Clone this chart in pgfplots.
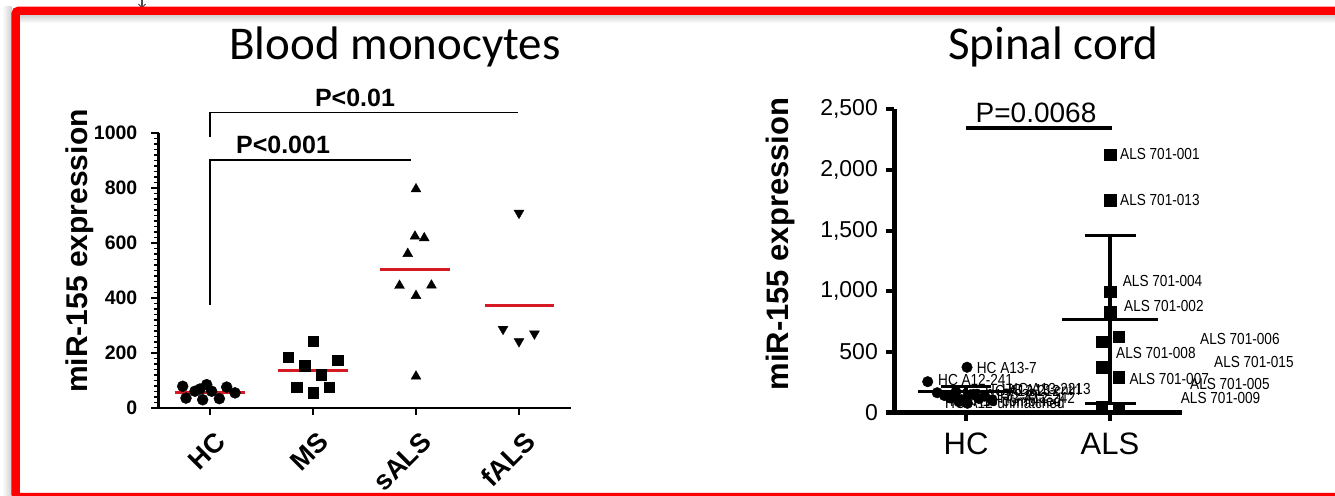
\documentclass[border=0pt]{standalone}
\usepackage{fontspec}
\setmainfont{Liberation Sans}
\newfontfamily\titlefont{Carlito}
\newfontfamily\narrowfont[FakeStretch=0.85]{Liberation Sans}
\usepackage{pgfplots}
\pgfplotsset{compat=1.18}
\definecolor{meanred}{RGB}{215,25,35}
\definecolor{framered}{RGB}{255,0,0}
\tikzset{lab/.style={anchor=west, inner sep=0pt, font=\narrowfont\fontsize{16bp}{18bp}\selectfont}}
\begin{document}
\begin{tikzpicture}
\useasboundingbox (0bp,0bp) rectangle (1335bp,496bp);
\fill[white] (0bp,0bp) rectangle (1335bp,496bp);
% slide shadow and frame
\shade[top color=black!18, bottom color=white] (19.5bp,481bp) rectangle (1335bp,473bp);
\shade[left color=white, right color=black!18] (2bp,0bp) rectangle (11.5bp,489bp);
\draw[black!70, line width=1.2bp] (142bp,496bp) -- (142bp,488bp);
\draw[black!70, line width=1bp] (138.5bp,492bp) -- (142bp,488bp) -- (145.5bp,492bp);
\draw[framered, line width=8.3bp, rounded corners=3bp] (1360bp,485.2bp) -- (15.6bp,485.2bp) -- (15.6bp,-1bp) -- (1360bp,-1bp);

% titles
\node[font=\titlefont\fontsize{47bp}{50bp}\selectfont, anchor=base] at (395bp,436bp) {Blood monocytes};
\node[font=\titlefont\fontsize{47bp}{50bp}\selectfont, anchor=base] at (1053.5bp,436bp) {Spinal cord};

% ---------------- left panel ----------------
\begin{axis}[
  at={(158.5bp,88bp)}, anchor=south west,
  scale only axis, width=412bp, height=275bp,
  xmin=0.5, xmax=4.5, ymin=0, ymax=1000,
  axis lines=left, axis line style={-, line width=2.8bp},
  clip=false,
  tick align=outside,
  major tick length=7bp, minor tick length=4.5bp,
  tick style={black, line width=2bp},
  minor tick style={line width=1.3bp},
  xtick={1,2,3,4}, xticklabels={HC,MS,sALS,fALS},
  ytick={0,200,400,600,800,1000}, minor y tick num=9,
  /pgf/number format/assume math mode=true,
  /pgf/number format/1000 sep={},
  yticklabel style={font=\fontsize{19.5bp}{21bp}\selectfont\bfseries, anchor=east, inner sep=0pt, xshift=-14bp},
  xticklabel style={font=\fontsize{27bp}{30bp}\selectfont\bfseries, xshift=4bp, yshift=-15bp, rotate=45, anchor=north east, inner sep=0pt},
]
% significance brackets
\draw[line width=1.3bp] (axis cs:1,985) -- (axis cs:1,1075) -- (axis cs:3.99,1075);
\draw[line width=1.3bp] (axis cs:1,375) -- (axis cs:1,902) -- (axis cs:2.95,902);
% means
\addplot[meanred, line width=2.4bp] coordinates {(0.66,57) (1.34,57)};
\addplot[meanred, line width=2.4bp] coordinates {(1.66,136) (2.34,136)};
\addplot[meanred, line width=2.4bp] coordinates {(2.65,503) (3.33,503)};
\addplot[meanred, line width=2.4bp] coordinates {(3.67,373) (4.34,373)};
% HC
\addplot[only marks, mark=*, mark size=5.5bp, black] coordinates {
 (0.735,79) (0.767,36) (0.854,61) (0.903,69) (0.929,30) (0.968,85)
 (1.016,61) (1.091,34) (1.162,76) (1.243,55)};
% MS
\addplot[only marks, mark=square*, mark size=5.2bp, black] coordinates {
 (1.76,185) (2.0,242) (1.92,154) (2.24,173) (2.08,121) (1.84,76) (2.16,76) (2.0,55)};
% sALS
\addplot[only marks, mark=triangle*, mark size=5.7bp, black] coordinates {
 (3.0,796) (2.99,624) (3.08,618) (2.92,561) (2.84,445) (3.15,446) (3.0,408) (3.0,115)};
% fALS
\addplot[only marks, mark=triangle*, mark size=5.7bp, black, mark options={rotate=180}] coordinates {
 (4.0,709) (3.845,287) (4.0,242) (4.15,270)};
\end{axis}
\node[font=\bfseries\fontsize{25bp}{28bp}\selectfont] at (355bp,398bp) {P<0.01};
\node[font=\bfseries\fontsize{25bp}{28bp}\selectfont] at (283bp,351bp) {P<0.001};
\node[rotate=90, font=\bfseries\fontsize{30bp}{32bp}\selectfont] at (80bp,245bp) {miR-155 expression};

% ---------------- right panel ----------------
\begin{axis}[
  at={(894bp,83.5bp)}, anchor=south west,
  scale only axis, width=288bp, height=303.3bp,
  xmin=0.5, xmax=2.5, ymin=0, ymax=2500,
  axis lines=left, axis line style={-, line width=5bp},
  clip=false,
  tick align=outside,
  major tick length=8bp,
  tick style={black, line width=4bp},
  xtick={1,2}, xticklabels={HC,ALS},
  ytick={0,500,1000,1500,2000,2500},
  /pgf/number format/assume math mode=true,
  /pgf/number format/1000 sep={,},
  yticklabel style={font=\fontsize{23bp}{26bp}\selectfont, anchor=east, inner sep=0pt, xshift=-8bp},
  xticklabel style={font=\fontsize{31bp}{34bp}\selectfont, anchor=north, inner sep=0pt, yshift=-12bp},
]
% HC error bar and mean
\addplot[black, line width=3.5bp] coordinates {(1,129) (1,215)};
\addplot[black, line width=3.5bp] coordinates {(0.826,215) (1.174,215)};
\addplot[black, line width=3.5bp] coordinates {(0.826,129) (1.174,129)};
\addplot[black, line width=3.5bp] coordinates {(0.67,172) (1.33,172)};
% ALS error bar and mean
\addplot[black, line width=3.5bp] coordinates {(2,76) (2,1458)};
\addplot[black, line width=3.5bp] coordinates {(1.823,1458) (2.177,1458)};
\addplot[black, line width=3.5bp] coordinates {(1.823,76) (2.177,76)};
\addplot[black, line width=3.5bp] coordinates {(1.67,768) (2.33,768)};
% HC points
\addplot[only marks, mark=*, mark size=5.3bp, black] coordinates {
 (0.734,254) (1.007,373) (0.80,163) (0.85,140) (0.89,120) (0.93,170)
 (0.97,105) (1.01,76) (1.05,150) (1.09,115) (1.13,135) (1.18,100) (0.95,90)};
% ALS points
\addplot[only marks, mark=square*, mark size=5.8bp, black] coordinates {
 (2,2125) (2,1749) (2,996) (2,831) (2.059,625) (1.941,584)
 (1.941,373) (2.059,293) (1.941,45) (2.059,40)};
\end{axis}
\node[rotate=90, font=\bfseries\fontsize{31bp}{33bp}\selectfont] at (780bp,252bp) {miR-155 expression};
\node[font=\fontsize{28bp}{30bp}\selectfont] at (1036bp,383bp) {P=0.0068};
\draw[line width=4bp] (966bp,368.3bp) -- (1112bp,368.3bp);
% point labels
\node[lab] at (1120bp,342bp) {ALS 701-001};
\node[lab] at (1120bp,296bp) {ALS 701-013};
\node[lab] at (1122.7bp,215.3bp) {ALS 701-004};
\node[lab] at (1124bp,190.5bp) {ALS 701-002};
\node[lab] at (1200bp,156.7bp) {ALS 701-006};
\node[lab] at (1116bp,142.7bp) {ALS 701-008};
\node[lab] at (1214bp,134.3bp) {ALS 701-015};
\node[lab] at (1129.3bp,116.7bp) {ALS 701-007};
\node[lab] at (1190bp,112bp) {ALS 701-005};
\node[lab] at (1180.7bp,97.7bp) {ALS 701-009};
\node[lab] at (976.7bp,127.7bp) {HC A13-7};
\node[lab] at (938bp,116bp) {HC A12-241};
\node[lab] at (985bp,105bp) {HC A13-212};
\node[lab] at (1002bp,106bp) {HC A13-cntrl};
\node[lab] at (1008bp,107bp) {HC A13-2213};
\node[lab] at (1000bp,98bp) {HC A12-242};
\node[lab] at (962bp,101bp) {HC A13-239};
\node[lab] at (950bp,95bp) {HC A13-combined};
\node[lab] at (945bp,93bp) {HC A12-unmatched};
\end{tikzpicture}
\end{document}
